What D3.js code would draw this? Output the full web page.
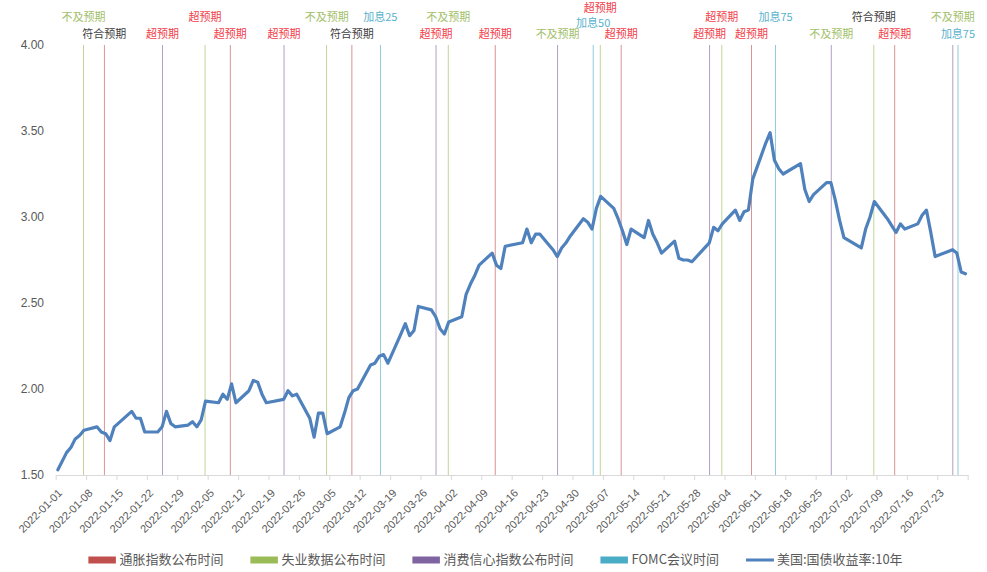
<!DOCTYPE html>
<html>
<head>
<meta charset="utf-8">
<script src="https://cdn.jsdelivr.net/npm/d3@7"></script>
<style>
body { margin: 0; background: #fff; }
svg { display: block; }
</style>
</head>
<body>
<svg width="987" height="572"></svg>
<script>
// 10Y treasury yield, trading days
var dates = [
 "2022-01-01","2022-01-03","2022-01-04","2022-01-05","2022-01-06","2022-01-07","2022-01-10","2022-01-11","2022-01-12","2022-01-13","2022-01-14",
 "2022-01-18","2022-01-19","2022-01-20","2022-01-21","2022-01-24","2022-01-25","2022-01-26","2022-01-27","2022-01-28","2022-01-31",
 "2022-02-01","2022-02-02","2022-02-03","2022-02-04","2022-02-07","2022-02-08","2022-02-09","2022-02-10","2022-02-11","2022-02-14",
 "2022-02-15","2022-02-16","2022-02-17","2022-02-18","2022-02-22","2022-02-23","2022-02-24","2022-02-25","2022-02-28",
 "2022-03-01","2022-03-02","2022-03-03","2022-03-04","2022-03-07","2022-03-08","2022-03-09","2022-03-10","2022-03-11","2022-03-14",
 "2022-03-15","2022-03-16","2022-03-17","2022-03-18","2022-03-21","2022-03-22","2022-03-23","2022-03-24","2022-03-25","2022-03-28",
 "2022-03-29","2022-03-30","2022-03-31","2022-04-01","2022-04-04","2022-04-05","2022-04-06","2022-04-07","2022-04-08","2022-04-11",
 "2022-04-12","2022-04-13","2022-04-14","2022-04-18","2022-04-19","2022-04-20","2022-04-21","2022-04-22","2022-04-25","2022-04-26",
 "2022-04-27","2022-04-28","2022-04-29","2022-05-02","2022-05-03","2022-05-04","2022-05-05","2022-05-06","2022-05-09","2022-05-10",
 "2022-05-11","2022-05-12","2022-05-13","2022-05-16","2022-05-17","2022-05-18","2022-05-19","2022-05-20","2022-05-23","2022-05-24",
 "2022-05-25","2022-05-26","2022-05-27","2022-05-31","2022-06-01","2022-06-02","2022-06-03","2022-06-06","2022-06-07","2022-06-08",
 "2022-06-09","2022-06-10","2022-06-13","2022-06-14","2022-06-15","2022-06-16","2022-06-17","2022-06-21","2022-06-22","2022-06-23",
 "2022-06-24","2022-06-27","2022-06-28","2022-06-29","2022-06-30","2022-07-01","2022-07-05","2022-07-06","2022-07-07","2022-07-08",
 "2022-07-11","2022-07-12","2022-07-13","2022-07-14","2022-07-15","2022-07-18","2022-07-19","2022-07-20","2022-07-21","2022-07-22",
 "2022-07-25","2022-07-26","2022-07-27","2022-07-28","2022-07-29"
]
var yields = [
 1.53,1.63,1.66,1.71,1.73,1.76,1.78,1.75,1.74,1.70,1.78,
 1.87,1.83,1.83,1.75,1.75,1.78,1.87,1.80,1.78,1.79,
 1.81,1.78,1.82,1.93,1.92,1.97,1.94,2.03,1.92,1.99,
 2.05,2.04,1.97,1.92,1.94,1.99,1.96,1.97,1.83,
 1.72,1.86,1.86,1.74,1.78,1.86,1.95,1.99,2.00,2.14,
 2.15,2.19,2.20,2.15,2.32,2.38,2.31,2.34,2.48,2.46,
 2.42,2.35,2.32,2.39,2.42,2.55,2.61,2.66,2.72,2.79,
 2.72,2.70,2.83,2.85,2.93,2.85,2.90,2.90,2.81,2.77,
 2.82,2.85,2.89,2.99,2.97,2.93,3.05,3.12,3.05,2.99,
 2.92,2.84,2.93,2.88,2.98,2.90,2.85,2.79,2.86,2.76,
 2.75,2.75,2.74,2.85,2.94,2.92,2.96,3.04,2.98,3.03,
 3.04,3.22,3.43,3.49,3.33,3.28,3.25,3.31,3.16,3.09,
 3.13,3.20,3.20,3.10,2.98,2.88,2.82,2.93,3.00,3.09,
 2.99,2.95,2.91,2.96,2.93,2.96,3.01,3.04,2.91,2.77,
 2.80,2.81,2.79,2.68,2.67
]

// event release dates, outcome labels, label tier (0 = highest row)
var cpiDates = ["2022-01-12","2022-02-10","2022-03-10","2022-04-12","2022-05-11","2022-06-10","2022-07-13"]
var cpiLabels = ["符合预期","超预期","符合预期","超预期","超预期","超预期","超预期"]
var cpiTiers = [3,3,3,3,3,3,3]

var nfpDates = ["2022-01-07","2022-02-04","2022-03-04","2022-04-01","2022-05-06","2022-06-03","2022-07-08"]
var nfpLabels = ["不及预期","超预期","不及预期","不及预期","超预期","超预期","符合预期"]
var nfpTiers = [1,1,1,1,0,1,1]

var confDates = ["2022-01-25","2022-02-22","2022-03-29","2022-04-26","2022-05-31","2022-06-28","2022-07-26"]
var confLabels = ["超预期","超预期","超预期","不及预期","超预期","不及预期","不及预期"]
var confTiers = [3,3,3,3,3,3,1]

var fomcDates = ["2022-03-16","2022-05-04","2022-06-15","2022-07-27"]
var fomcLabels = ["加息25","加息50","加息75","加息75"]
var fomcTiers = [1,2,1,3]

var yTicks = [1.5, 2.0, 2.5, 3.0, 3.5, 4.0]
var legendNames = ["通胀指数公布时间","失业数据公布时间","消费信心指数公布时间","FOMC会议时间","美国:国债收益率:10年"]

var colors = {cpi: "#c0504d", nfp: "#9bbb59", conf: "#8064a2", fomc: "#4bacc6", line: "#4f81bd"}
var labelColor = {"超预期": "#f2404a", "不及预期": "#a2c06a", "符合预期": "#404040", "加息25": "#58b2cc", "加息50": "#58b2cc", "加息75": "#58b2cc"}
var tierY = [9.5, 18.5, 24.5, 35.5]

var svg = d3.select("svg")
var parse = d3.utcParse("%Y-%m-%d")
var fmt = d3.utcFormat("%Y-%m-%d")
var start = parse("2022-01-01"), end = parse("2022-07-30")

var x = d3.scaleUtc().domain([start, end]).range([55.7, 967.7])
var dayW = x(parse("2022-01-02")) - x(start)
var y = d3.scaleLinear().domain([1.5, 4]).range([475, 45])
var sub = d3.scaleBand().domain(["cpi","nfp","conf","fomc"]).range([0.107 * dayW, 0.857 * dayW])

var events = []
function addEvents(key, ds, labels, tiers) {
	ds.forEach(function(d, i) { events.push({key: key, date: parse(d), label: labels[i], tier: tiers[i]}) })
}
addEvents("cpi", cpiDates, cpiLabels, cpiTiers)
addEvents("nfp", nfpDates, nfpLabels, nfpTiers)
addEvents("conf", confDates, confLabels, confTiers)
addEvents("fomc", fomcDates, fomcLabels, fomcTiers)

// event columns
svg.append("g").selectAll("rect").data(events).enter().append("rect")
	.attr("x", d => x(d.date) + sub(d.key))
	.attr("width", sub.bandwidth())
	.attr("y", y(4))
	.attr("height", y(1.5) - y(4))
	.attr("fill", d => colors[d.key])
	.attr("opacity", 0.75)

// labels above columns
svg.append("g").selectAll("text").data(events).enter().append("text")
	.attr("x", d => x(d.date) + sub(d.key) + sub.bandwidth() / 2)
	.attr("y", d => tierY[d.tier])
	.attr("text-anchor", "middle")
	.attr("dominant-baseline", "middle")
	.style("font-family", "'Noto Sans CJK SC', sans-serif")
	.style("font-size", "11px")
	.attr("fill", d => labelColor[d.label])
	.text(d => d.label)

// x axis
var saturdays = d3.utcSaturday.range(start, d3.utcDay.offset(end, 1))
var xAxis = svg.append("g").attr("transform", "translate(0,475)")
	.call(d3.axisBottom(x).tickValues(saturdays).tickSize(5).tickSizeOuter(0)
		.tickFormat(d => d < end ? fmt(d) : ""))
xAxis.selectAll("path, line").attr("stroke", "#d9d9d9")
xAxis.selectAll("text")
	.attr("y", 0).attr("x", 0).attr("dy", "0.35em")
	.attr("text-anchor", "end")
	.attr("transform", "translate(4,16) rotate(-45)")
	.attr("fill", "#595959")
	.style("font-family", "'Liberation Sans', Arial, sans-serif")
	.style("font-size", "11px")

// y axis
var yAxis = svg.append("g").attr("transform", "translate(47,0)")
	.call(d3.axisLeft(y).tickValues(yTicks).tickFormat(d3.format(".2f")).tickSize(0).tickPadding(3))
yAxis.select(".domain").remove()
yAxis.selectAll("text")
	.attr("fill", "#595959")
	.style("font-family", "'Liberation Sans', Arial, sans-serif")
	.style("font-size", "12px")

// yield line
var series = dates.map((d, i) => ({date: parse(d), v: yields[i]}))
var line = d3.line().x(d => x(d.date) + dayW / 2).y(d => y(d.v))
svg.append("path").datum(series)
	.attr("d", line)
	.attr("fill", "none")
	.attr("stroke", colors.line)
	.attr("stroke-width", 3.2)
	.attr("stroke-linejoin", "round")
	.attr("stroke-linecap", "round")

// legend
var legendKeys = ["cpi","nfp","conf","fomc","line"]
var legend = svg.append("g")
var lx = 0
legendKeys.forEach(function(k, i) {
	var g = legend.append("g").attr("transform", "translate(" + lx + ",0)")
	if (k == "line") {
		g.append("line").attr("x1", 0).attr("x2", 28).attr("y1", 0).attr("y2", 0)
			.attr("stroke", colors.line).attr("stroke-width", 3)
	} else {
		g.append("rect").attr("x", 0).attr("y", -3.5).attr("width", 27.5).attr("height", 7)
			.attr("fill", colors[k])
	}
	var t = g.append("text").attr("x", 31).attr("y", 0)
		.attr("dominant-baseline", "middle")
		.attr("fill", "#595959")
		.style("font-family", "'Noto Sans CJK SC', sans-serif")
		.style("font-size", "13px")
		.text(legendNames[i])
	lx += 31 + t.node().getComputedTextLength() + 27
})
var legW = lx - 27
legend.attr("transform", "translate(" + (495.5 - legW / 2) + ",560)")
</script>
</body>
</html>
